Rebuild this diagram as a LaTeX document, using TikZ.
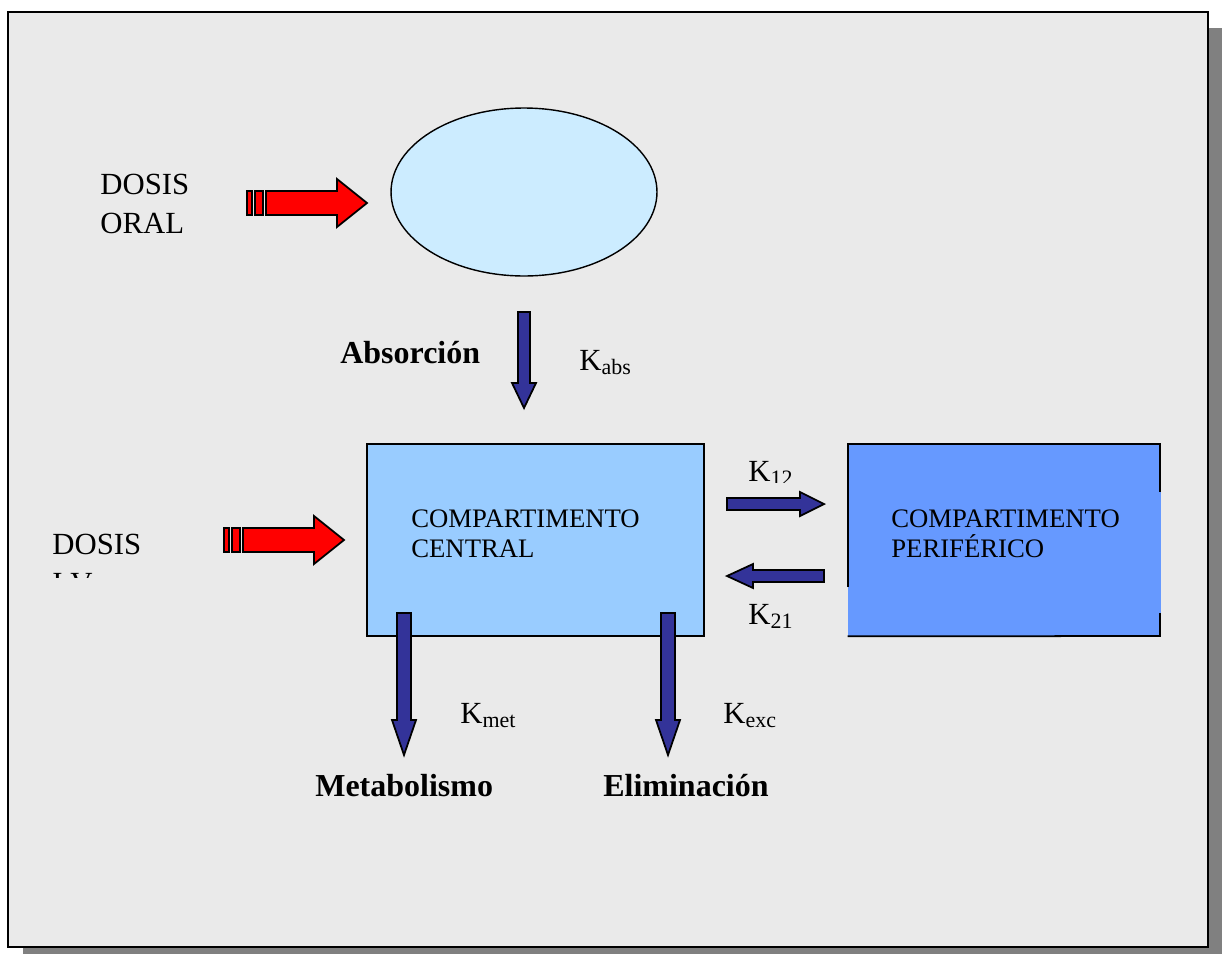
\documentclass[tikz,border=0pt]{standalone}
\usepackage{fontspec}
\setmainfont{Liberation Serif}
\usetikzlibrary{shapes, positioning}

\definecolor{framegray}{HTML}{EAEAEA}
\definecolor{shadowgray}{HTML}{808080}
\definecolor{gutcyan}{HTML}{CCECFF}
\definecolor{centralblue}{HTML}{99CCFF}
\definecolor{peripheralblue}{HTML}{6699FF}
\definecolor{flowblue}{HTML}{333399}

\newcommand{\ksub}[1]{K\raisebox{-2.5pt}{\fontsize{12.5}{12.5}\selectfont #1}}

\begin{document}
\begin{tikzpicture}[
		x=0.02cm, y=-0.02cm,
		lbl/.style={inner sep=0pt, anchor=base west, align=left, font=\fontsize{17.5}{22.1}\selectfont},
		boxlbl/.style={lbl, font=\fontsize{15.2}{17}\selectfont},
		title/.style={lbl, font=\bfseries\fontsize{18.2}{22}\selectfont},
		comp/.style={rectangle, minimum height=3.84cm, inner sep=0pt},
		redarrow/.style={draw=black, fill=red, line width=1pt},
		bluearrow/.style={draw=black, fill=flowblue, line width=1pt}
		]
		\useasboundingbox (0,0) rectangle (1222,954);
		
		% Slide frame
		\fill[shadowgray] (23,28) rectangle (1222,954);
		\draw[line width=1.6pt, fill=framegray] (8,12) rectangle (1208,947);
		
		% Compartments
		\node[ellipse, draw=black, line width=0.8pt, fill=gutcyan, minimum width=5.32cm, minimum height=3.36cm, inner sep=0pt] (gut) at (524,192) {};
		\node[comp, draw=black, line width=1pt, fill=centralblue, minimum width=6.74cm] (central) at (535.5,540) {};
		\node[comp, fill=peripheralblue, minimum width=6.26cm] (peripheral) at (1004.5,540) {};
		\draw[line width=1pt] (peripheral.south west |- 0,587) -- (peripheral.north west) -- (peripheral.north east -| 1160,0) -- (1160,492);
		\draw[line width=1pt] (1160,613) -- (1160,636) -- (peripheral.south west);
		
		% multi-line labels sit on their last baseline
		\node[boxlbl] (central-txt) at (411,557) {COMPARTIMENTO\\CENTRAL};
		\node[boxlbl] (peripheral-txt) at (891,557) {COMPARTIMENTO\\PERIFÉRICO};
		
		% Doses
		\node[lbl] (oral) at (100,233) {DOSIS\\ORAL};
		\begin{scope}
			\clip (0,0) rectangle (400,577);
			\node[lbl] (iv) at (52,593) {DOSIS\\I.V.};
		\end{scope}
		
		\coordinate (oral-tail) at (266,203);
		\coordinate (oral-tip) at (367,203);
		\draw[redarrow] (247,191) rectangle (252,215);
		\draw[redarrow] (255,191) rectangle (263,215);
		\draw[redarrow] (oral-tail) ++(0,-12) -- ++(71,0) -- ++(0,-12) -- (oral-tip) -- ++(-30,24) -- ++(0,-12) -- ++(-71,0) -- cycle;
		
		\coordinate (iv-tail) at (243,540);
		\coordinate (iv-tip) at (344,540);
		\draw[redarrow] (224,528) rectangle (229,552);
		\draw[redarrow] (232,528) rectangle (240,552);
		\draw[redarrow] (iv-tail) ++(0,-12) -- ++(71,0) -- ++(0,-12) -- (iv-tip) -- ++(-30,24) -- ++(0,-12) -- ++(-71,0) -- cycle;
		
		% Absorption
		\coordinate (abs-tail) at (524,312);
		\coordinate (abs-tip) at (524,408);
		\draw[bluearrow] (abs-tail) ++(-6,0) -- ++(12,0) -- ++(0,71) -- ++(6,0) -- (abs-tip) -- ++(-12,-25) -- ++(6,0) -- cycle;
		\node[title] (absorcion) at (340,363) {Absorción};
		\node[lbl] (kabs) at (579,370) {\ksub{abs}};
		
		% Exchange central <-> peripheral
		\coordinate (k12-tail) at (727,504);
		\coordinate (k12-tip) at (824,504);
		\draw[bluearrow] (k12-tail) ++(0,-6) -- ++(73,0) -- ++(0,-6) -- (k12-tip) -- ++(-24,12) -- ++(0,-6) -- ++(-73,0) -- cycle;
		\coordinate (k21-tail) at (824,576);
		\coordinate (k21-tip) at (727,576);
		\draw[bluearrow] (k21-tail) ++(0,-6) -- ++(-71,0) -- ++(0,-6) -- (k21-tip) -- ++(26,12) -- ++(0,-6) -- ++(71,0) -- cycle;
		\begin{scope}
			\clip (700,440) rectangle (840,482);
			\node[lbl] (k12) at (748,481) {\ksub{12}};
		\end{scope}
		\node[lbl] (k21) at (748,624) {\ksub{21}};
		
		% Elimination routes
		\coordinate (met-tail) at (404,613);
		\coordinate (met-tip) at (404,755);
		\draw[bluearrow] (met-tail) ++(-7,0) -- ++(14,0) -- ++(0,107) -- ++(5,0) -- (met-tip) -- ++(-12,-35) -- ++(5,0) -- cycle;
		\coordinate (exc-tail) at (668,613);
		\coordinate (exc-tip) at (668,755);
		\draw[bluearrow] (exc-tail) ++(-7,0) -- ++(14,0) -- ++(0,107) -- ++(5,0) -- (exc-tip) -- ++(-12,-35) -- ++(5,0) -- cycle;
		\node[lbl] (kmet) at (460,723) {\ksub{met}};
		\node[lbl] (kexc) at (723,723) {\ksub{exc}};
		\node[title] (metabolismo) at (315,796) {Metabolismo};
		\node[title] (eliminacion) at (603,796) {Eliminación};
	\end{tikzpicture}
\end{document}
